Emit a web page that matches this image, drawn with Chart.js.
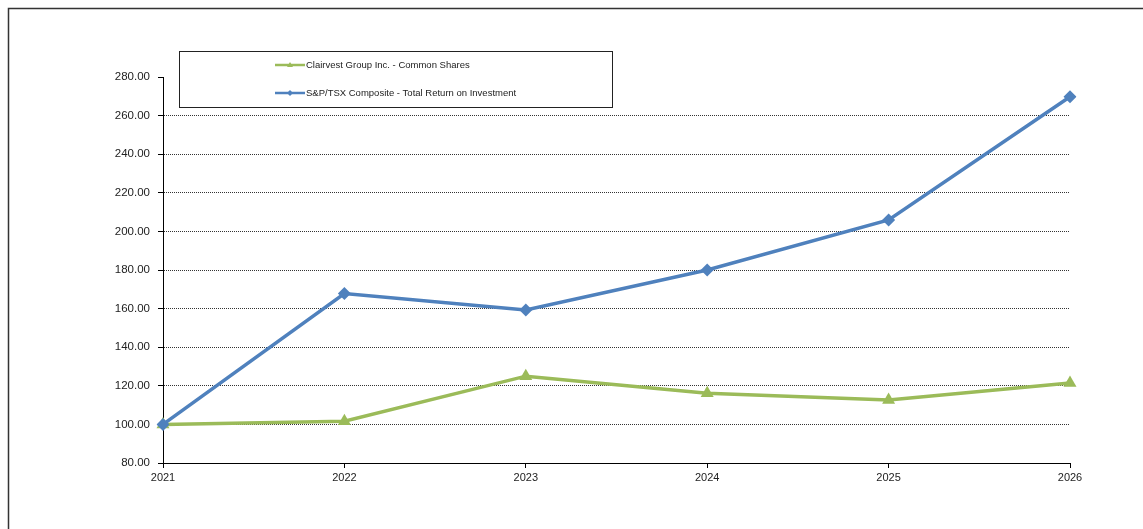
<!DOCTYPE html>
<html>
<head>
<meta charset="utf-8">
<script src="https://cdn.jsdelivr.net/npm/chart.js@4/dist/chart.umd.min.js"></script>
<style>
  html, body { margin: 0; padding: 0; background: #fff; }
  #wrap { width: 1143px; height: 529px; position: relative; }
</style>
</head>
<body>
<div id="wrap"><canvas id="myChart" width="1143" height="529"></canvas></div>
<script>
const years = ['2021', '2022', '2023', '2024', '2025', '2026'];
const clairvest = [100.00, 101.6, 125.0, 116.1, 112.7, 121.5];
const tsx = [100.00, 167.8, 159.3, 180.0, 205.9, 269.8];
const seriesNames = [
    'Clairvest Group Inc. - Common Shares',
    'S&P/TSX Composite - Total Return on Investment',
];
const yMin = 80;
const yMax = 280;
const yStep = 20;

const green = '#9BBB59';
const blue = '#4F81BD';

// frame + boxed legend drawn on top
const boxLegend = {
    id: 'boxLegend',
    afterDraw(chart) {
        const ctx = chart.ctx;
        ctx.save();
        // outer frame (only top and left visible)
        ctx.strokeStyle = '#333';
        ctx.lineWidth = 1.5;
        ctx.beginPath();
        ctx.moveTo(8.5, 529);
        ctx.lineTo(8.5, 8.5);
        ctx.lineTo(1143, 8.5);
        ctx.stroke();

        // legend box
        ctx.fillStyle = '#fff';
        ctx.fillRect(179.5, 51.5, 433, 56);
        ctx.strokeStyle = '#222';
        ctx.lineWidth = 1;
        ctx.strokeRect(179.5, 51.5, 433, 56);

        const rows = [65, 93];
        chart.data.datasets.forEach(function (ds, i) {
            const y = rows[i];
            ctx.strokeStyle = ds.borderColor;
            ctx.lineWidth = 2.5;
            ctx.beginPath();
            ctx.moveTo(275, y);
            ctx.lineTo(305, y);
            ctx.stroke();
            ctx.fillStyle = ds.borderColor;
            ctx.beginPath();
            if (ds.pointStyle === 'triangle') {
                ctx.moveTo(290, y - 3);
                ctx.lineTo(293, y + 2);
                ctx.lineTo(287, y + 2);
            } else {
                ctx.moveTo(290, y - 3);
                ctx.lineTo(293, y);
                ctx.lineTo(290, y + 3);
                ctx.lineTo(287, y);
            }
            ctx.closePath();
            ctx.fill();
            ctx.fillStyle = '#222';
            ctx.font = '9.5px "Liberation Sans", Arial, sans-serif';
            ctx.textBaseline = 'middle';
            ctx.textAlign = 'left';
            ctx.fillText(ds.label, 306, y);
        });
        ctx.restore();
    }
};

const ctx = document.getElementById('myChart').getContext('2d');
new Chart(ctx, {
    type: 'line',
    data: {
        labels: years,
        datasets: [
            {
                label: seriesNames[0],
                data: clairvest,
                borderColor: green,
                backgroundColor: green,
                borderWidth: 3.5,
                pointStyle: 'triangle',
                pointRadius: 7.5,
                pointBorderWidth: 0,
                tension: 0,
                order: 2,
            },
            {
                label: seriesNames[1],
                data: tsx,
                borderColor: blue,
                backgroundColor: blue,
                borderWidth: 3.5,
                pointStyle: 'rectRot',
                pointRadius: 6.5,
                pointBorderWidth: 0,
                tension: 0,
                order: 1,
            }
        ]
    },
    options: {
        responsive: false,
        animation: false,
        layout: { padding: { left: 0, right: 73, top: 77, bottom: 36 } },
        plugins: {
            legend: { display: false },
            tooltip: { enabled: false }
        },
        scales: {
            x: {
                offset: false,
                grid: {
                    drawOnChartArea: false,
                    drawTicks: true,
                    tickLength: 5,
                    tickColor: '#000',
                },
                border: { display: true, color: '#000', width: 1 },
                ticks: {
                    color: '#222',
                    padding: 3,
                    maxRotation: 0,
                    font: { family: '"Liberation Sans", Arial, sans-serif', size: 11 }
                },
                afterFit(scale) { scale.height = 30; }
            },
            y: {
                min: yMin,
                max: yMax,
                grid: {
                    color: function (c) {
                        const v = c.tick ? c.tick.value : null;
                        return (v === yMin || v === yMax) ? 'rgba(0,0,0,0)' : '#333';
                    },
                    lineWidth: 1,
                    tickLength: 5,
                    tickColor: '#000',
                },
                border: { display: true, color: '#000', width: 1, dash: [1, 1] },
                ticks: {
                    stepSize: yStep,
                    color: '#222',
                    padding: 8,
                    font: { family: '"Liberation Sans", Arial, sans-serif', size: 11.5 },
                    callback: function (v) { return Number(v).toFixed(2); }
                },
                afterFit(scale) { scale.width = 163; }
            }
        }
    },
    plugins: [boxLegend]
});
</script>
</body>
</html>
